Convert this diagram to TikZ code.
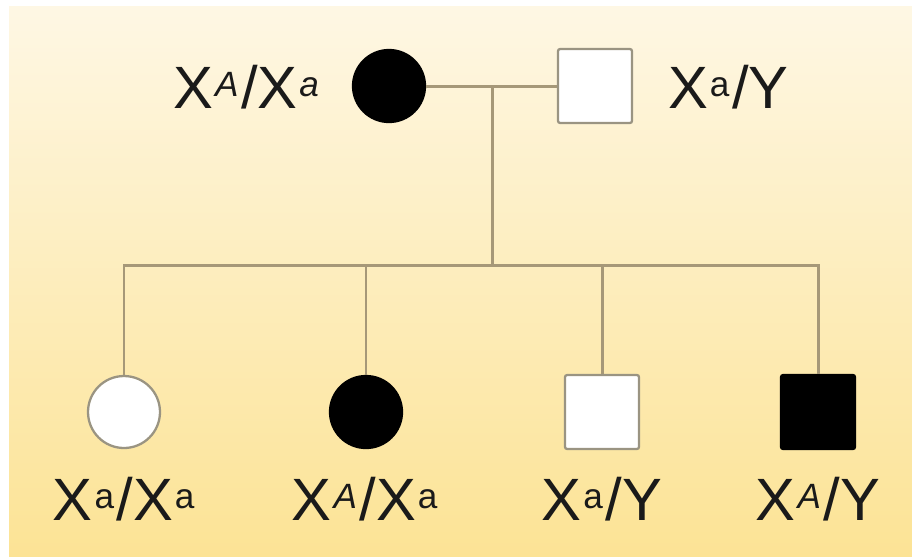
\documentclass[tikz,border=0pt]{standalone}
\usepackage{fontspec}
\setmainfont{Liberation Sans}
\usetikzlibrary{positioning, calc}
\usepackage{xcolor}
\definecolor{pdbgtop}{HTML}{FEF7E4}
\definecolor{pdbgbot}{HTML}{FCE395}
\definecolor{pdline}{HTML}{A69878}
\definecolor{pdedge}{HTML}{9A9482}
\definecolor{pdtext}{HTML}{1A1A1A}
\newcommand{\allele}[1]{\kern1pt\raisebox{6.5pt}{\fontsize{20}{20}\selectfont #1}\kern1.5pt}

\begin{document}
\begin{tikzpicture}[x=0.02cm, y=-0.02cm,
    female/.style={circle, draw=pdedge, line width=1.3pt, minimum size=1.44cm, inner sep=0pt},
    male/.style={rectangle, draw=pdedge, line width=1.3pt, rounded corners=1.2pt, minimum size=1.48cm, inner sep=0pt},
    affected/.style={fill=black, draw=black},
    healthy/.style={fill=white},
    link/.style={draw=pdline, line width=1.7pt},
    gtype/.style={text=pdtext, inner sep=0pt, font=\fontsize{34}{40}\selectfont}]
    \useasboundingbox (0,0) rectangle (912,556);
    \shade[top color=pdbgtop, bottom color=pdbgbot] (9,6) rectangle (912,556);
    % parents
    \node[female, affected] (mother) at (389,86) {};
    \node[male, healthy] (father) at (595,86) {};
    \node[gtype, anchor=base east] (lmother) at (322,108) {X\allele{\textit{A}}/X\allele{\textit{a}}};
    \node[gtype, anchor=base west] (lfather) at (668,108) {X\allele{a}/Y};
    % children
    \node[female, healthy] (c1) at (124,412) {};
    \node[female, affected] (c2) at (366,412) {};
    \node[male, healthy] (c3) at (602,412) {};
    \node[male, affected] (c4) at (818,412) {};
    \node[gtype, anchor=base] (l1) at (125,520) {X\allele{a}/X\allele{a}};
    \node[gtype, anchor=base] (l2) at (366,520) {X\allele{\textit{A}}/X\allele{a}};
    \node[gtype, anchor=base] (l3) at (602,520) {X\allele{a}/Y};
    \node[gtype, anchor=base] (l4) at (818,520) {X\allele{\textit{A}}/Y};
    % lines
    \coordinate (mate) at ($(mother)!0.5!(father)$);
    \coordinate (sib) at (491,265);
    \draw[link] (mother) -- (father);
    \draw[link] (mate) -- (mate |- sib);
    \draw[link, line cap=rect] (c1 |- sib) -- (c4 |- sib);
    \draw[link] (c1 |- sib) -- (c1.north);
    \draw[link] (c2 |- sib) -- (c2.north);
    \draw[link] (c3 |- sib) -- (c3.north);
    \draw[link] (c4 |- sib) -- (c4.north);
\end{tikzpicture}
\end{document}
